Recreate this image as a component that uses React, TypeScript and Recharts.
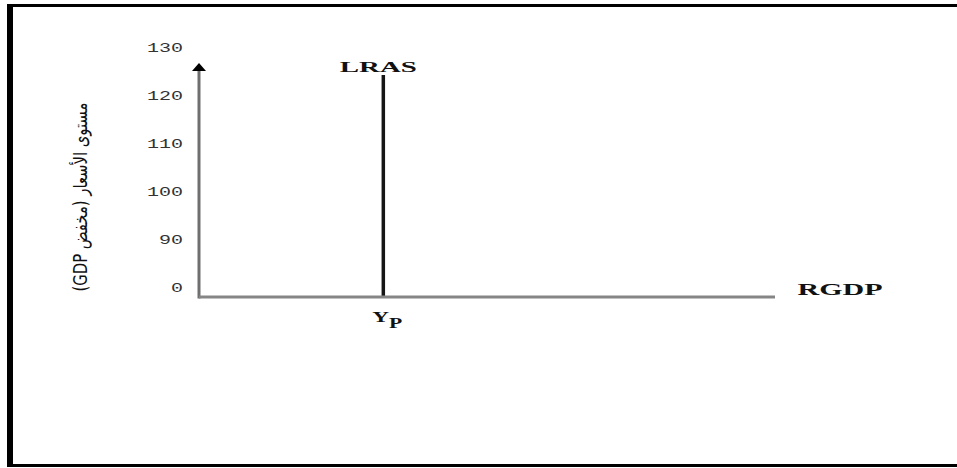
import React from 'react';
import { LineChart, Line, XAxis, YAxis, ReferenceLine } from 'recharts';

// y tick labels sit on evenly spaced slots, not on their numeric value
const yTickLabels = ['0', '90', '100', '110', '120', '130'];
const yTickSlots = [0, 1, 2, 3, 4, 5];

// long run aggregate supply: vertical at potential output Yp
const lrasRgdp = [32, 32];
const lrasLevel = [0, 4.625];
const potentialOutput = 32;
const priceAxisTop = 4.875;

const lrasData = lrasRgdp.map((rgdp, i) => ({ rgdp, level: lrasLevel[i] }));

const YTick = ({ x, y, payload }: any) => {
  const label = yTickLabels[payload.value] ?? '';
  return (
    <text
      x={x}
      y={y - 9}
      textAnchor="end"
      dominantBaseline="central"
      fontFamily="'Liberation Mono', monospace"
      fontSize={13}
      fill="#333"
      textLength={label.length * 12}
      lengthAdjust="spacingAndGlyphs"
    >
      {label}
    </text>
  );
};

const XTick = ({ x, y }: any) => (
  <text
    x={x + 4}
    y={y + 25}
    textAnchor="middle"
    fontFamily="'Liberation Serif', serif"
    fontWeight="bold"
    fill="#111"
    textLength={30}
    lengthAdjust="spacingAndGlyphs"
  >
    <tspan fontSize={15}>Y</tspan>
    <tspan fontSize={14} dy={6}>P</tspan>
  </text>
);

const PriceAxisArrow = ({ x1, y1, x2, y2 }: any) => {
  const top = Math.min(y1, y2);
  const bottom = Math.max(y1, y2);
  return (
    <g>
      <line x1={x1} y1={bottom + 1.5} x2={x1} y2={top + 6} stroke="#6f6f6f" strokeWidth={3} />
      <polygon points={`${x1},${top} ${x1 - 7},${top + 8} ${x1 + 7},${top + 8}`} fill="#000" />
    </g>
  );
};

const PriceAxisLabel = ({ viewBox }: any) => {
  const cx = viewBox.x + 1;
  const cy = viewBox.y + 140;
  return (
    <text
      x={cx}
      y={cy}
      transform={`rotate(-90 ${cx} ${cy})`}
      textAnchor="middle"
      dominantBaseline="central"
      direction="rtl"
      fontFamily="'DejaVu Sans', serif"
      fontSize={19}
      fill="#111"
      textLength={189}
      lengthAdjust="spacingAndGlyphs"
    >
      مستوى الأسعار (مخفض GDP)
    </text>
  );
};

const RgdpLabel = ({ viewBox }: any) => (
  <text
    x={viewBox.x + viewBox.width + 65}
    y={viewBox.y - 2}
    textAnchor="middle"
    fontFamily="'Liberation Serif', serif"
    fontWeight="bold"
    fontSize={17}
    fill="#111"
    textLength={85}
    lengthAdjust="spacingAndGlyphs"
  >
    RGDP
  </text>
);

const LrasLabel = ({ x, y, index }: any) => {
  if (index !== 1) return null;
  return (
    <text
      x={x - 5}
      y={y - 3}
      textAnchor="middle"
      fontFamily="'Liberation Serif', serif"
      fontWeight="bold"
      fontSize={15}
      fill="#111"
      textLength={77}
      lengthAdjust="spacingAndGlyphs"
    >
      LRAS
    </text>
  );
};

export default function App() {
  return (
    <div style={{ position: 'absolute', left: 0, top: 0, width: 957, height: 468, background: '#fff', overflow: 'hidden' }}>
      <div
        style={{
          position: 'absolute',
          left: 7,
          top: 4,
          width: 960,
          height: 463,
          boxSizing: 'border-box',
          borderTop: '3px solid #000',
          borderLeft: '6px solid #000',
          borderBottom: '3px solid #000',
        }}
      />
      <div style={{ position: 'absolute', left: 0, top: 0 }}>
        <LineChart width={957} height={468} data={lrasData} margin={{ top: 57, right: 182, bottom: 141, left: 79 }}>
          <XAxis
            type="number"
            dataKey="rgdp"
            domain={[0, 100]}
            ticks={[potentialOutput]}
            height={30}
            tickSize={0}
            tickMargin={0}
            tick={<XTick />}
            axisLine={{ stroke: '#858585', strokeWidth: 3 }}
            label={<RgdpLabel />}
          />
          <YAxis
            type="number"
            domain={[0, 5]}
            ticks={yTickSlots}
            width={120}
            tickSize={0}
            tickMargin={16}
            axisLine={false}
            tick={<YTick />}
            label={<PriceAxisLabel />}
          />
          <ReferenceLine
            segment={[{ x: 0, y: 0 }, { x: 0, y: priceAxisTop }]}
            shape={<PriceAxisArrow />}
          />
          <Line
            type="linear"
            dataKey="level"
            stroke="#151515"
            strokeWidth={3.5}
            dot={false}
            isAnimationActive={false}
            label={<LrasLabel />}
          />
        </LineChart>
      </div>
    </div>
  );
}
